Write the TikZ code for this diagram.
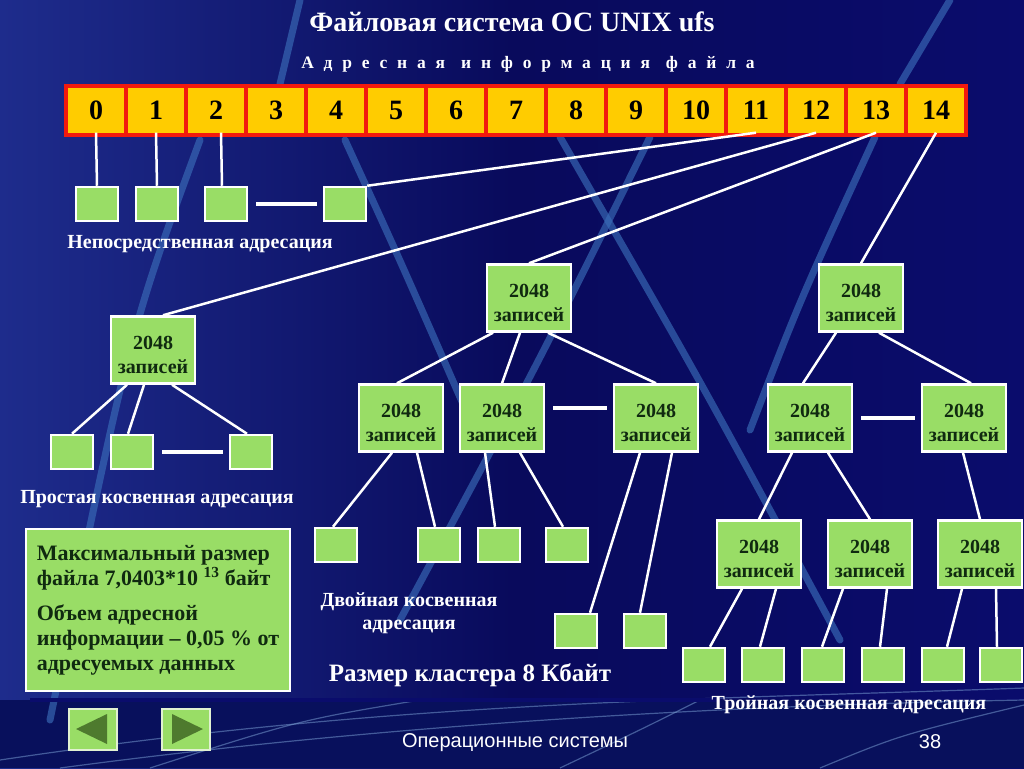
\documentclass[tikz,border=0pt]{standalone}
\usepackage{fontspec}
\setmainfont{Liberation Serif}
\setsansfont{Liberation Sans}
\newfontfamily\spacedfont[LetterSpace=56]{Liberation Serif}
\usetikzlibrary{shapes,arrows,positioning}

\definecolor{bgnavy}{HTML}{0A0C6C}
\definecolor{bgleft}{HTML}{1E2C8C}
\definecolor{bgfoot}{HTML}{08105C}
\definecolor{streak}{HTML}{3A6CB8}
\definecolor{cellyellow}{HTML}{FFCC00}
\definecolor{cellred}{HTML}{F21A0E}
\definecolor{leafgreen}{HTML}{99DD66}
\definecolor{inktext}{HTML}{102A10}
\definecolor{navdark}{HTML}{4E7A2E}
\definecolor{rulegreen}{HTML}{B4DC8C}

\newcommand{\records}{\raisebox{-5pt}[\height][\depth]{\parbox{80pt}{\centering 2048\\ записей}}}

\tikzstyle{cell} = [rectangle, fill=cellyellow, minimum width=56, minimum height=45, inner sep=0,
font=\fontsize{28}{28}\selectfont\bfseries]
\tikzstyle{leaf} = [rectangle, draw=white, line width=2.5, fill=leafgreen, minimum width=42, minimum height=34]
\tikzstyle{block} = [rectangle, draw=white, line width=2.5, fill=leafgreen, minimum width=84, minimum height=67,
text=inktext, inner sep=0, font=\fontsize{20}{24}\selectfont\bfseries]
\tikzstyle{line} = [draw=white, line width=2.5]
\tikzstyle{gap} = [draw=white, line width=4, shorten <=8, shorten >=6]
\tikzstyle{caption} = [text=white, align=center, inner sep=0, font=\fontsize{20}{23}\selectfont\bfseries]
\tikzstyle{streakline} = [draw=streak, line width=7, opacity=0.65, line cap=round]
\tikzstyle{sweep} = [draw=streak!70!white, line width=1.2, opacity=0.55]
\tikzstyle{navbtn} = [rectangle, draw=rulegreen!40!white, line width=2, fill=leafgreen, minimum width=48, minimum height=41]

\begin{document}
\begin{tikzpicture}[x=1pt, y=-1pt]
	\useasboundingbox (0,0) rectangle (1024,768);
	\shade [left color=bgleft, right color=bgnavy, middle color=bgnavy!85!black] (0,0) rectangle (1024,768);
	\fill [bgfoot] (0,700) rectangle (1024,768);
	
	\path [streakline] (300,0) -- (280,84);
	\path [streakline] (950,0) -- (900,84);
	\path [streakline] (200,140) .. controls (130,330) .. (50,720);
	\path [streakline] (345,140) .. controls (400,260) .. (470,420);
	\path [streakline] (560,137) .. controls (700,380) .. (840,640);
	\path [streakline] (650,137) .. controls (540,360) .. (400,620);
	\path [streakline] (875,137) .. controls (800,300) .. (750,430);
	
	\path [sweep] (0,760) .. controls (400,700) and (700,700) .. (1024,688);
	\path [sweep] (60,768) .. controls (420,720) and (760,705) .. (1024,700);
	\path [sweep] (150,768) .. controls (300,720) .. (420,700);
	\path [sweep] (560,768) .. controls (640,730) .. (700,700);
	\path [sweep] (820,768) .. controls (900,735) .. (1024,705);
	\shade [left color=bgnavy, middle color=rulegreen, right color=bgnavy] (30,698) rectangle (720,701);
	
	
	\node [text=white, font=\fontsize{28}{28}\selectfont\bfseries] (title) at (512,22) {Файловая система ОС UNIX ufs};
	\node [text=white, font=\spacedfont\fontsize{17.5}{17.5}\selectfont\bfseries] (subtitle) at (528,64)
	{Адресная\hspace{16pt}информация\hspace{16pt}файла};
	
	\node [rectangle, fill=cellred, minimum width=904, minimum height=53] (row) at (516,110) {};
	\foreach \i in {0,...,14}
	\node [cell] (c\i) at ({96+60*\i},110) {\i};
	
	
	\node [leaf] (d1) at (97,204) {};
	\node [leaf] (d2) at (157,204) {};
	\node [leaf] (d3) at (226,204) {};
	\node [leaf] (d4) at (345,204) {};
	\node [caption] (dlabel) at (200,244) {Непосредственная адресация};
	
	\node [block] (s) at (153,350) {\records};
	\node [leaf] (s1) at (72,452) {};
	\node [leaf] (s2) at (132,452) {};
	\node [leaf] (s3) at (251,452) {};
	\node [caption] (slabel) at (157,499) {Простая косвенная адресация};
	
	
	\node [block] (dt) at (529,298) {\records};
	\node [block] (da) at (401,418) {\records};
	\node [block] (db) at (502,418) {\records};
	\node [block] (dc) at (656,418) {\records};
	\node [leaf] (da1) at (336,545) {};
	\node [leaf] (da2) at (439,545) {};
	\node [leaf] (db1) at (499,545) {};
	\node [leaf] (db2) at (567,545) {};
	\node [leaf] (dc1) at (576,631) {};
	\node [leaf] (dc2) at (645,631) {};
	\node [caption] (dblabel) at (409,613) {Двойная косвенная\\адресация};
	
	
	\node [block] (tt) at (861,298) {\records};
	\node [block] (ta) at (810,418) {\records};
	\node [block] (tb) at (964,418) {\records};
	\node [block] (taa) at (759,554) {\records};
	\node [block] (tab) at (870,554) {\records};
	\node [block] (tba) at (980,554) {\records};
	\node [leaf] (taa1) at (704,665) {};
	\node [leaf] (taa2) at (763,665) {};
	\node [leaf] (tab1) at (823,665) {};
	\node [leaf] (tab2) at (883,665) {};
	\node [leaf] (tba1) at (943,665) {};
	\node [leaf] (tba2) at (1001,665) {};
	\node [caption] (trlabel) at (849,705) {Тройная косвенная адресация};
	
	
	\node [rectangle, draw=white, line width=2.5, fill=leafgreen, minimum width=264, minimum height=162,
	align=left, text=inktext, font=\fontsize{22}{25}\selectfont\bfseries] (info) at (158,610)
	{Максимальный размер\\ файла 7,0403*10 \textsuperscript{13} байт\\[10pt] Объем адресной\\ информации – 0,05 \% от\\ адресуемых данных};
	\node [caption, font=\fontsize{25}{25}\selectfont\bfseries] (cluster) at (470,675) {Размер кластера 8 Кбайт};
	
	
	\node [navbtn] (prev) at (93,729) {};
	\node [navbtn] (next) at (186,729) {};
	\fill [navdark] ([xshift=-17]prev.center) -- ([xshift=14,yshift=15]prev.center) -- ([xshift=14,yshift=-15]prev.center) -- cycle;
	\fill [navdark] ([xshift=17]next.center) -- ([xshift=-14,yshift=15]next.center) -- ([xshift=-14,yshift=-15]next.center) -- cycle;
	\node [text=white, font=\sffamily\fontsize{20}{20}\selectfont] (course) at (515,743) {Операционные системы};
	\node [text=white, font=\sffamily\fontsize{20}{20}\selectfont] (page) at (930,742) {38};
	
	
	\path [line] (c0.south) -- (d1.north);
	\path [line] (c1.south) -- (d2.north);
	\path [line] ([xshift=5]c2.south) -- ([xshift=-4]d3.north);
	\path [gap] (d3) -- (d4);
	\path [line] (c11.south) -- (d4.north east);
	
	\path [line] (c12.south) -- ([xshift=10]s.north);
	\path [line] ([xshift=-26]s.south) -- (s1.north);
	\path [line] ([xshift=-9]s.south) -- ([xshift=-4]s2.north);
	\path [line] ([xshift=19]s.south) -- ([xshift=-4]s3.north);
	\path [gap] (s2) -- (s3);
	
	\path [line] (c13.south) -- (dt.north);
	\path [line] ([xshift=-36]dt.south) -- ([xshift=-4]da.north);
	\path [line] ([xshift=-9]dt.south) -- (db.north);
	\path [line] ([xshift=19]dt.south) -- (dc.north);
	\path [gap] ([yshift=10]db.east) -- ([yshift=10]dc.west);
	\path [line] ([xshift=-9]da.south) -- ([xshift=-3]da1.north);
	\path [line] ([xshift=16]da.south) -- ([xshift=-4]da2.north);
	\path [line] ([xshift=-17]db.south) -- ([xshift=-4]db1.north);
	\path [line] ([xshift=18]db.south) -- ([xshift=-4]db2.north);
	\path [line] ([xshift=-16]dc.south) -- ([xshift=14]dc1.north);
	\path [line] ([xshift=16]dc.south) -- ([xshift=-5]dc2.north);
	
	\path [line] (c14.south) -- (tt.north);
	\path [line] ([xshift=-25]tt.south) -- ([xshift=-7]ta.north);
	\path [line] ([xshift=18]tt.south) -- ([xshift=7]tb.north);
	\path [gap] (ta) -- (tb);
	\path [line] ([xshift=-18]ta.south) -- (taa.north);
	\path [line] ([xshift=18]ta.south) -- (tab.north);
	\path [line] ([xshift=-1]tb.south) -- (tba.north);
	\path [line] ([xshift=-17]taa.south) -- ([xshift=6]taa1.north);
	\path [line] ([xshift=17]taa.south) -- ([xshift=-3]taa2.north);
	\path [line] ([xshift=-27]tab.south) -- ([xshift=-1]tab1.north);
	\path [line] ([xshift=17]tab.south) -- ([xshift=-3]tab2.north);
	\path [line] ([xshift=-18]tba.south) -- ([xshift=4]tba1.north);
	\path [line] ([xshift=16]tba.south) -- ([xshift=-4]tba2.north);
\end{tikzpicture}
\end{document}
